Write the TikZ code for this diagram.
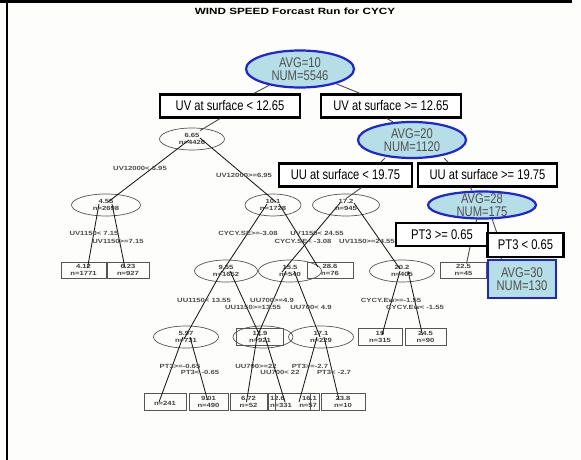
\documentclass[tikz,border=0pt]{standalone}
\usepackage{fontspec}
\setmainfont{Liberation Sans}
\newfontfamily\bigfont[FakeStretch=0.8]{Liberation Sans}
\newfontfamily\tinyfont[FakeStretch=1.28]{Liberation Sans}
\newfontfamily\titlefont[FakeStretch=1.3]{Liberation Sans}
\usetikzlibrary{shapes.geometric,calc}
\definecolor{lblue}{HTML}{B5DEE6}
\definecolor{blueB}{HTML}{1C24DC}
\definecolor{txtgray}{HTML}{505050}
\definecolor{smgray}{HTML}{555555}
\definecolor{bg}{HTML}{FDFDFB}
\begin{document}
\begin{tikzpicture}[x=1pt,y=-1pt,
  bigell/.style={ellipse,draw=blueB,fill=lblue,line width=2.2pt,inner sep=0pt},
  bigtxt/.style={font=\bigfont\fontsize{14}{13.5}\selectfont,text=txtgray,align=center,inner sep=0pt},
  bigbox/.style={rectangle,draw=black,fill=white,line width=2.2pt,inner sep=0pt,font=\bigfont\fontsize{14}{14}\selectfont},
  avgbox/.style={rectangle,draw=blueB,fill=lblue,line width=2.2pt,inner sep=0pt,font=\bigfont\fontsize{14}{13.5}\selectfont,text=txtgray,align=center},
  smell/.style={ellipse,draw=smgray,line width=0.7pt,inner sep=0pt,minimum height=22,font=\tinyfont\bfseries\fontsize{6}{6.3}\selectfont,align=center,text=black!75},
  smbox/.style={rectangle,draw=smgray,line width=0.7pt,inner sep=0pt,minimum height=16,font=\tinyfont\bfseries\fontsize{6}{6.3}\selectfont,align=center,text=black!75},
  lab/.style={font=\tinyfont\bfseries\fontsize{6}{6}\selectfont,text=black!70,inner sep=0pt},
  link/.style={line width=0.85pt,black!90},
  biglink/.style={line width=0.9pt,black!70}
]
\useasboundingbox (0,0) rectangle (581,460);
\fill[bg] (0,0) rectangle (581,460);
% frame
\draw[line width=3pt] (0,2) -- (572,2);
\draw[line width=2pt] (7,2) -- (7,460);

% title
\node[font=\titlefont\bfseries\fontsize{9}{9}\selectfont,inner sep=0pt] (title) at (295,11) {WIND SPEED Forcast Run for CYCY};

% ---------- small (gray) tree ----------
\node[smell,minimum width=65] (e665) at (192,139) {6.65\\n=4426};
\node[smell,minimum width=69] (e455) at (106,205) {4.55\\n=2698};
\node[smell,minimum width=56] (e101) at (273,205) {10.1\\n=1728};
\node[smell,minimum width=67] (e17) at (346,205) {17.2\\n=945};
\node[smbox,minimum width=45] (l412) at (83.5,270) {4.12\\n=1771};
\node[smbox,minimum width=42] (l623) at (128,270) {6.23\\n=927};
\node[smell,minimum width=63] (e955) at (226,271) {9.55\\n=1652};
\node[smell,minimum width=63] (e155) at (290,271) {15.5\\n=540};
\node[smbox,minimum width=46] (l286) at (330,270) {28.6\\n=76};
\node[smell,minimum width=65] (e202) at (402,271) {20.2\\n=405};
\node[smbox,minimum width=46] (l225) at (463.5,270) {22.5\\n=45};
\node[smbox,minimum width=44] (lhid) at (510,270) {};
\node[smell,minimum width=65] (e597) at (186,337) {5.97\\n=731};
\node[smell,minimum width=60] (ehid) at (263,337) {};
\node[smbox,minimum width=47,minimum height=17] (l129) at (260,337) {12.9\\n=921};
\node[smell,minimum width=65] (e171) at (321,337) {17.1\\n=229};
\node[smbox,minimum width=44,minimum height=17] (l19) at (380,337) {19\\n=315};
\node[smbox,minimum width=41,minimum height=17] (l245) at (425.5,337) {24.5\\n=90};
\node[smbox,minimum width=42,minimum height=17] (r1) at (165,402) {\\n=241};
\node[smbox,minimum width=39,minimum height=17] (r2) at (208.5,402) {9.01\\n=490};
\node[smbox,minimum width=37,minimum height=17] (r3) at (248.5,402) {6.72\\n=52};
\node[smbox,minimum width=42,minimum height=17,text width=38,align=left] (r4) at (289,402) {12.6\\n=331};
\node[smbox,minimum width=44,minimum height=17,text width=40,align=right] (r5) at (297,402) {16.1\\n=57};
\node[smbox,minimum width=44,minimum height=17] (r6) at (343,402) {23.8\\n=10};

% small tree links
\draw[link] ($(e665.center)+(-3,1)$) -- ($(e455.center)+(2,-3)$);
\draw[link] ($(e665.center)+(8,-1)$) -- ($(e101.center)+(3,-3)$);
\draw[link] ($(e455.center)+(-7,-1)$) -- ($(l412.center)+(4,-2)$);
\draw[link] ($(e455.center)+(6,-1)$) -- ($(l623.center)+(-3,-2)$);
\draw[link] ($(e101.center)+(-6,-1)$) -- ($(e955.center)+(-4,1)$);
\draw[link] ($(e101.center)+(6,-1)$) -- ($(l286.center)+(-12,-3)$);
\draw[link] ($(e17.center)+(-6,-2)$) -- ($(e155.center)+(-8,1)$);
\draw[link] ($(e17.center)+(8,-2)$) -- ($(e202.center)+(-2,-2)$);
\draw[link] ($(e955.center)+(-4,0)$) -- ($(e597.center)+(-2,2)$);
\draw[link] ($(e955.center)+(4,0)$) -- ($(l129.center)+(0,-1)$);
\draw[link] ($(e155.center)+(-4,0)$) -- ($(ehid.center)+(-7,2)$);
\draw[link] ($(e155.center)+(4,0)$) -- ($(e171.center)+(-1,0)$);
\draw[link] ($(e202.center)+(-2,0)$) -- ($(l19.center)+(2,-2)$);
\draw[link] ($(e202.center)+(6,0)$) -- ($(l245.center)+(-3,-2)$);
\draw[link] ($(e597.center)+(-3,0)$) -- ($(r1.center)+(-6,0)$);
\draw[link] ($(e597.center)+(4,0)$) -- ($(r2.center)+(-1,-2)$);
\draw[link] ($(ehid.center)+(-6,0)$) -- ($(r3.center)+(-2,0)$);
\draw[link] ($(ehid.center)+(2,0)$) -- ($(r4.center)+(-4,0)$);
\draw[link] ($(e171.center)+(-4,0)$) -- ($(r5.center)+(2,0)$);
\draw[link] ($(e171.center)+(3,0)$) -- ($(r6.center)+(-4,-2)$);

% split labels
\node[lab] (s1) at (140,168) {UV12000< 6.95};
\node[lab] (s2) at (244,175) {UV12000>=6.95};
\node[lab] (s3) at (94,233) {UV1150< 7.15};
\node[lab] (s4) at (118,241) {UV1150>=7.15};
\node[lab] (s5) at (248,233) {CYCY.SE>=-3.08};
\node[lab] (s6) at (317,233) {UV1150< 24.55};
\node[lab] (s7) at (303,241) {CYCY.SE< -3.08};
\node[lab] (s8) at (367,241) {UV1150>=24.55};
\node[lab] (s9) at (204,300) {UU1150< 13.55};
\node[lab] (s10) at (272,300) {UU700>=4.9};
\node[lab] (s11) at (253,307) {UU1150>=13.55};
\node[lab] (s12) at (311,307) {UU700< 4.9};
\node[lab] (s13) at (391,300) {CYCY.Ew>=-1.55};
\node[lab] (s14) at (415,307) {CYCY.Ew< -1.55};
\node[lab] (s15) at (180,366) {PT3>=-0.65};
\node[lab] (s16) at (200,372) {PT3< -0.65};
\node[lab] (s17) at (256,366) {UU700>=22};
\node[lab] (s18) at (280,372) {UU700< 22};
\node[lab] (s19) at (310,366) {PT3>=-2.7};
\node[lab] (s20) at (334,372) {PT3< -2.7};

% ---------- big overlay tree ----------
\node[bigell,minimum width=108,minimum height=37] (root) at (300,69) {};
\node[bigtxt] at (root.center) {AVG=10\\NUM=5546};
\node[bigbox,minimum width=140,minimum height=23] (b1) at (230,106) {UV at surface < 12.65};
\node[bigbox,minimum width=140,minimum height=23] (b2) at (391,106) {UV at surface >= 12.65};
\node[bigell,minimum width=108,minimum height=36] (avg20) at (412,140) {};
\node[bigtxt] at (avg20.center) {AVG=20\\NUM=1120};
\node[bigbox,minimum width=133,minimum height=23] (b3) at (345.5,175) {UU at surface < 19.75};
\node[bigbox,minimum width=139,minimum height=23] (b4) at (487.5,175) {UU at surface >= 19.75};
\node[bigell,minimum width=108,minimum height=27] (avg28) at (482,205) {};
\node[bigtxt] at (avg28.center) {AVG=28\\NUM=175};
\node[bigbox,minimum width=92,minimum height=23] (b5) at (442,234.5) {PT3 >= 0.65};
\node[bigbox,minimum width=76,minimum height=24] (b6) at (525.5,245) {PT3 < 0.65};
\node[avgbox,minimum width=68,minimum height=38] (avg30) at (522,279) {AVG=30\\NUM=130};

% big links
\draw[biglink] (root) -- (b1);
\draw[biglink] (root) -- (b2);
\draw[biglink] ($(b1.south)+(-10,0)$) -- ($(e665.north)+(8,3)$);
\draw[biglink] ($(b2.south)+(-4,0)$) -- ($(avg20.north)+(-19,1)$);
\draw[biglink] ($(avg20.south)+(-27,-1)$) -- ($(b3.north)+(35,0)$);
\draw[biglink] ($(avg20.south)+(32,-1)$) -- ($(b4.north)+(-39,0)$);
\draw[biglink] ($(b3.south)+(16,0)$) -- ($(e17.north)+(0,5)$);
\draw[biglink] ($(b4.south)+(-17,0)$) -- ($(avg28.north)+(-10,0)$);
\draw[biglink] ($(avg28.south)+(-5,-1)$) -- ($(b5.north)+(34,0)$);
\draw[biglink] ($(avg28.south)+(10,-1)$) -- ($(b6.north)+(-29,0)$);
\draw[biglink] ($(b5.south)+(28,0)$) -- ($(l225.north)+(3,2)$);
\draw[biglink] ($(b6.south)+(-24,0)$) -- ($(avg30.north)+(-21,0)$);
\end{tikzpicture}
\end{document}
